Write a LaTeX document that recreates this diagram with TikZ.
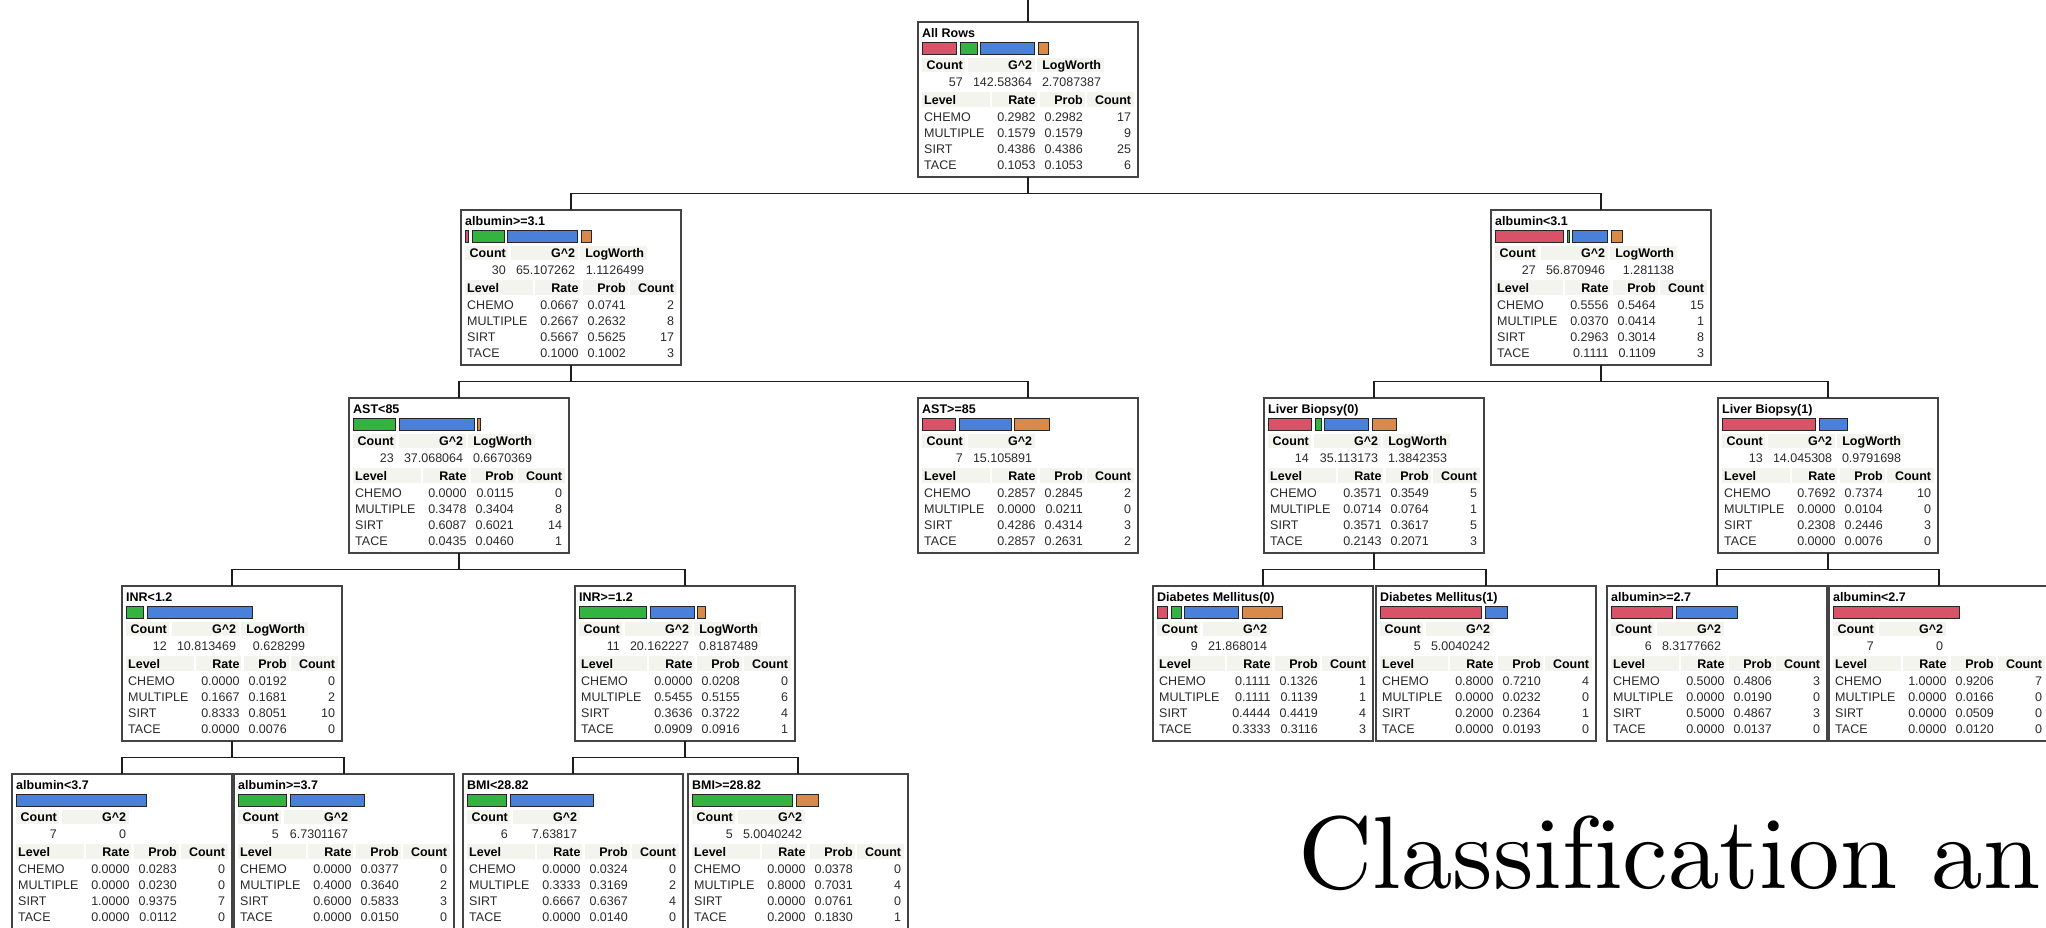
\documentclass[tikz,border=0pt]{standalone}
\usepackage{fontspec}
\newfontfamily\tbff{Liberation Sans}
\newfontfamily\bigserif{lmroman10-regular.otf}[Ligatures=CommonOff]
\newcommand\tbfont{\tbff\fontsize{12.5}{14}\selectfont}
\definecolor{pinkbar}{HTML}{D95268}
\definecolor{greenbar}{HTML}{33B340}
\definecolor{bluebar}{HTML}{4980D9}
\definecolor{orangebar}{HTML}{D98A4A}
\definecolor{hdbg}{HTML}{F4F4EE}
\definecolor{boxc}{HTML}{444444}
\definecolor{linec}{HTML}{1E1E1E}
\definecolor{txtc}{HTML}{2A2A2A}
\newcounter{tnc}
\tikzset{
  autoname/.code={\stepcounter{tnc}\tikzset{name=t\arabic{tnc}}},
  tboxst/.style={draw=boxc, line width=1.4pt, fill=white, minimum width=220pt, minimum height=155pt, inner sep=0pt, outer sep=0pt, anchor=north west},
  treeline/.style={draw=linec, line width=1.2pt},
  ttl/.style={autoname, font=\tbfont\bfseries, text=black, anchor=base west, inner sep=0pt},
  hd/.style={autoname, font=\tbfont\bfseries, text=black, anchor=base east, inner sep=0pt},
  val/.style={autoname, font=\tbfont, text=txtc, anchor=base east, inner sep=0pt},
  lvl/.style={autoname, font=\tbfont, text=txtc, anchor=base west, inner sep=0pt},
  cell/.style={fill=hdbg},
  bar/.style={draw=black!85, line width=0.9pt},
}
\newcommand\tbox[4]{%
  \node[tboxst] (#1) at (#2,#3) {};
  \xdef\tbL{#2}\xdef\tbT{#3}%
  \node[ttl] at (\tbL+4,\tbT+15.8) {#4};}
\newcommand\tbbars[1]{%
  \gdef\tbbx{4.5}%
  \foreach \c/\w in {#1}{%
    \draw[bar,fill=\c] (\tbL+\tbbx,\tbT+20.5) rectangle ++(\w-1,11.5);
    \pgfmathsetmacro\tbtmp{\tbbx+\w+2.5}\global\let\tbbx\tbtmp
  }}
\newcommand\tbstats[3]{%
  \fill[cell] (\tbL+3.5,\tbT+36.3) rectangle (\tbL+47.3,\tbT+50.3);
  \fill[cell] (\tbL+50,\tbT+36.3) rectangle (\tbL+116.7,\tbT+50.3);
  \node[hd] at (\tbL+45,\tbT+47.8) {Count};
  \node[hd] at (\tbL+114.3,\tbT+47.8) {G\textasciicircum 2};
  \node[val] at (\tbL+45,\tbT+64.2) {#1};
  \node[val] at (\tbL+114.3,\tbT+64.2) {#2};
  \ifx\relax#3\relax\else
    \fill[cell] (\tbL+119,\tbT+36.3) rectangle (\tbL+185.7,\tbT+50.3);
    \node[hd] at (\tbL+183.3,\tbT+47.8) {LogWorth};
    \node[val] at (\tbL+183.3,\tbT+64.2) {#3};
  \fi
  \fill[cell] (\tbL+3.5,\tbT+70.3) rectangle (\tbL+71.7,\tbT+84.7);
  \fill[cell] (\tbL+74,\tbT+70.3) rectangle (\tbL+119,\tbT+84.7);
  \fill[cell] (\tbL+121.7,\tbT+70.3) rectangle (\tbL+167.3,\tbT+84.7);
  \fill[cell] (\tbL+169.3,\tbT+70.3) rectangle (\tbL+215.7,\tbT+84.7);
  \node[ttl] at (\tbL+6,\tbT+82.5) {Level};
  \node[hd] at (\tbL+117.7,\tbT+82.5) {Rate};
  \node[hd] at (\tbL+165,\tbT+82.5) {Prob};
  \node[hd] at (\tbL+213.3,\tbT+82.5) {Count};}
\newcommand\tbrow[5]{%
  \node[lvl] at (\tbL+6,\tbT+#1) {#2};
  \node[val] at (\tbL+117.7,\tbT+#1) {#3};
  \node[val] at (\tbL+165,\tbT+#1) {#4};
  \node[val] at (\tbL+213.3,\tbT+#1) {#5};}
\newcommand\tbrows[4]{\tbrow{99.2}{CHEMO}#1\tbrow{115.2}{MULTIPLE}#2\tbrow{131.5}{SIRT}#3\tbrow{147.2}{TACE}#4}
\begin{document}
\begin{tikzpicture}[x=1pt,y=-1pt]
\useasboundingbox (0,0) rectangle (2046,927);
\clip (0,0) rectangle (2046,927);
\fill[white] (0,0) rectangle (2046,927);

% root
\tbox{root}{918}{22}{All Rows}
\tbbars{pinkbar/35,greenbar/18,bluebar/55,orangebar/11}
\tbstats{57}{142.58364}{2.7087387}
\tbrows{{0.2982}{0.2982}{17}}{{0.1579}{0.1579}{9}}{{0.4386}{0.4386}{25}}{{0.1053}{0.1053}{6}}

% level 2
\tbox{a31}{461}{210}{albumin>=3.1}
\tbbars{pinkbar/4,greenbar/33,bluebar/71,orangebar/11}
\tbstats{30}{65.107262}{1.1126499}
\tbrows{{0.0667}{0.0741}{2}}{{0.2667}{0.2632}{8}}{{0.5667}{0.5625}{17}}{{0.1000}{0.1002}{3}}

\tbox{b31}{1491}{210}{albumin<3.1}
\tbbars{pinkbar/69,greenbar/3,bluebar/36,orangebar/12}
\tbstats{27}{56.870946}{1.281138}
\tbrows{{0.5556}{0.5464}{15}}{{0.0370}{0.0414}{1}}{{0.2963}{0.3014}{8}}{{0.1111}{0.1109}{3}}

% level 3
\tbox{ast1}{349}{398}{AST<85}
\tbbars{greenbar/43,bluebar/76,orangebar/4}
\tbstats{23}{37.068064}{0.6670369}
\tbrows{{0.0000}{0.0115}{0}}{{0.3478}{0.3404}{8}}{{0.6087}{0.6021}{14}}{{0.0435}{0.0460}{1}}

\tbox{ast2}{918}{398}{AST>=85}
\tbbars{pinkbar/34,bluebar/53,orangebar/36}
\tbstats{7}{15.105891}{}
\tbrows{{0.2857}{0.2845}{2}}{{0.0000}{0.0211}{0}}{{0.4286}{0.4314}{3}}{{0.2857}{0.2631}{2}}

\tbox{lb0}{1264}{398}{Liver Biopsy(0)}
\tbbars{pinkbar/44,greenbar/7,bluebar/45,orangebar/25}
\tbstats{14}{35.113173}{1.3842353}
\tbrows{{0.3571}{0.3549}{5}}{{0.0714}{0.0764}{1}}{{0.3571}{0.3617}{5}}{{0.2143}{0.2071}{3}}

\tbox{lb1}{1718}{398}{Liver Biopsy(1)}
\tbbars{pinkbar/94,bluebar/29}
\tbstats{13}{14.045308}{0.9791698}
\tbrows{{0.7692}{0.7374}{10}}{{0.0000}{0.0104}{0}}{{0.2308}{0.2446}{3}}{{0.0000}{0.0076}{0}}

% level 4
\tbox{inr1}{122}{586}{INR<1.2}
\tbbars{greenbar/18,bluebar/106}
\tbstats{12}{10.813469}{0.628299}
\tbrows{{0.0000}{0.0192}{0}}{{0.1667}{0.1681}{2}}{{0.8333}{0.8051}{10}}{{0.0000}{0.0076}{0}}

\tbox{inr2}{575}{586}{INR>=1.2}
\tbbars{greenbar/68,bluebar/45,orangebar/9}
\tbstats{11}{20.162227}{0.8187489}
\tbrows{{0.0000}{0.0208}{0}}{{0.5455}{0.5155}{6}}{{0.3636}{0.3722}{4}}{{0.0909}{0.0916}{1}}

\tbox{dm0}{1153}{586}{Diabetes Mellitus(0)}
\tbbars{pinkbar/11,greenbar/11,bluebar/55,orangebar/41}
\tbstats{9}{21.868014}{}
\tbrows{{0.1111}{0.1326}{1}}{{0.1111}{0.1139}{1}}{{0.4444}{0.4419}{4}}{{0.3333}{0.3116}{3}}

\tbox{dm1}{1376}{586}{Diabetes Mellitus(1)}
\tbbars{pinkbar/102,bluebar/23}
\tbstats{5}{5.0040242}{}
\tbrows{{0.8000}{0.7210}{4}}{{0.0000}{0.0232}{0}}{{0.2000}{0.2364}{1}}{{0.0000}{0.0193}{0}}

\tbox{a27ge}{1607}{586}{albumin>=2.7}
\tbbars{pinkbar/62,bluebar/62}
\tbstats{6}{8.3177662}{}
\tbrows{{0.5000}{0.4806}{3}}{{0.0000}{0.0190}{0}}{{0.5000}{0.4867}{3}}{{0.0000}{0.0137}{0}}

\tbox{a27lt}{1829}{586}{albumin<2.7}
\tbbars{pinkbar/127}
\tbstats{7}{0}{}
\tbrows{{1.0000}{0.9206}{7}}{{0.0000}{0.0166}{0}}{{0.0000}{0.0509}{0}}{{0.0000}{0.0120}{0}}

% level 5
\tbox{a37lt}{12}{774}{albumin<3.7}
\tbbars{bluebar/131}
\tbstats{7}{0}{}
\tbrows{{0.0000}{0.0283}{0}}{{0.0000}{0.0230}{0}}{{1.0000}{0.9375}{7}}{{0.0000}{0.0112}{0}}

\tbox{a37ge}{234}{774}{albumin>=3.7}
\tbbars{greenbar/49,bluebar/75}
\tbstats{5}{6.7301167}{}
\tbrows{{0.0000}{0.0377}{0}}{{0.4000}{0.3640}{2}}{{0.6000}{0.5833}{3}}{{0.0000}{0.0150}{0}}

\tbox{bmi1}{463}{774}{BMI<28.82}
\tbbars{greenbar/40,bluebar/84}
\tbstats{6}{7.63817}{}
\tbrows{{0.0000}{0.0324}{0}}{{0.3333}{0.3169}{2}}{{0.6667}{0.6367}{4}}{{0.0000}{0.0140}{0}}

\tbox{bmi2}{688}{774}{BMI>=28.82}
\tbbars{greenbar/101,orangebar/23}
\tbstats{5}{5.0040242}{}
\tbrows{{0.0000}{0.0378}{0}}{{0.8000}{0.7031}{4}}{{0.0000}{0.0761}{0}}{{0.2000}{0.1830}{1}}

% connectors
\coordinate (top) at (1028,0);
\draw[treeline] (top) -- (root.north);
\foreach \p/\c in {root/a31,root/b31,a31/ast1,a31/ast2,b31/lb0,b31/lb1,
  ast1/inr1,ast1/inr2,lb0/dm0,lb0/dm1,lb1/a27ge,lb1/a27lt,
  inr1/a37lt,inr1/a37ge,inr2/bmi1,inr2/bmi2}{
  \draw[treeline] (\p.south) -- ++(0,16.5) -| (\c.north);
}

% large caption
\node[anchor=base west, inner sep=0pt, font=\bigserif\fontsize{103}{110}\selectfont] (caption) at (1298,888) {Classification an};
\end{tikzpicture}
\end{document}
